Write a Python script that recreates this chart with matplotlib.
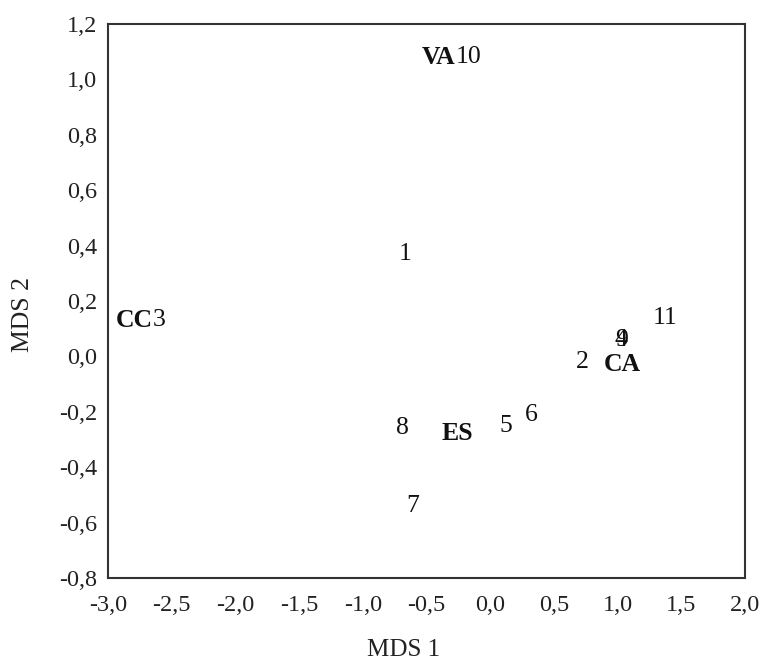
import matplotlib
matplotlib.use("Agg")
import matplotlib.pyplot as plt
from matplotlib.ticker import FuncFormatter

plt.rcParams['font.family'] = ['Liberation Serif', 'DejaVu Serif']

# Sample numbers (plain) and site codes (bold) in MDS space
sample_labels = ["1", "2", "3", "4", "5", "6", "7", "8", "9", "10", "11"]
sample_x = [-0.67, 0.72, -2.65, 1.03, 0.12, 0.32, -0.61, -0.69, 1.03, -0.27, 1.37]
sample_y = [0.37, -0.02, 0.13, 0.06, -0.25, -0.21, -0.54, -0.26, 0.06, 1.08, 0.14]

site_labels = ["VA", "CC", "CA", "ES"]
site_x = [-0.27, -2.65, 1.04, -0.26]
site_y = [1.08, 0.13, -0.03, -0.28]
site_align = ["right", "right", "center", "center"]

# Samples sharing a point with a site label sit to its right
sample_align = {"10": "left", "3": "left"}

xticks = [-3.0, -2.5, -2.0, -1.5, -1.0, -0.5, 0.0, 0.5, 1.0, 1.5, 2.0]
yticks = [-0.8, -0.6, -0.4, -0.2, 0.0, 0.2, 0.4, 0.6, 0.8, 1.0, 1.2]

W, H = 765, 661
fig = plt.figure(figsize=(W / 100, H / 100), dpi=100)
ax = fig.add_axes([108 / W, 1 - 578 / H, (745 - 108) / W, (578 - 24) / H])

for lab, x, y in zip(sample_labels, sample_x, sample_y):
    ax.text(x, y, lab, ha=sample_align.get(lab, "center"), va="center",
            fontsize=18.5, color="#111111")

for lab, x, y, ha in zip(site_labels, site_x, site_y, site_align):
    ax.text(x, y, lab, ha=ha, va="center", fontsize=18.5,
            fontweight="bold", color="#111111")

ax.set_xlim(-3.0, 2.0)
ax.set_ylim(-0.8, 1.2)
ax.set_xticks(xticks)
ax.set_yticks(yticks)
comma = FuncFormatter(lambda v, p: f"{v:.1f}".replace(".", ","))
ax.xaxis.set_major_formatter(comma)
ax.yaxis.set_major_formatter(comma)
ax.tick_params(length=0, labelsize=17.5, colors="#222222")
ax.tick_params(axis="x", pad=12)
ax.tick_params(axis="y", pad=8)

for s in ax.spines.values():
    s.set_linewidth(1.5)
    s.set_color("#333333")

# Axis titles
fig.text(404 / W, 1 - 650 / H, "MDS 1", ha="center", va="center",
         fontsize=18, color="#222222")
fig.text(23 / W, 1 - 315 / H, "MDS 2", ha="center", va="center",
         rotation=90, fontsize=18.5, color="#222222")

fig.savefig("out.png", dpi=100)
